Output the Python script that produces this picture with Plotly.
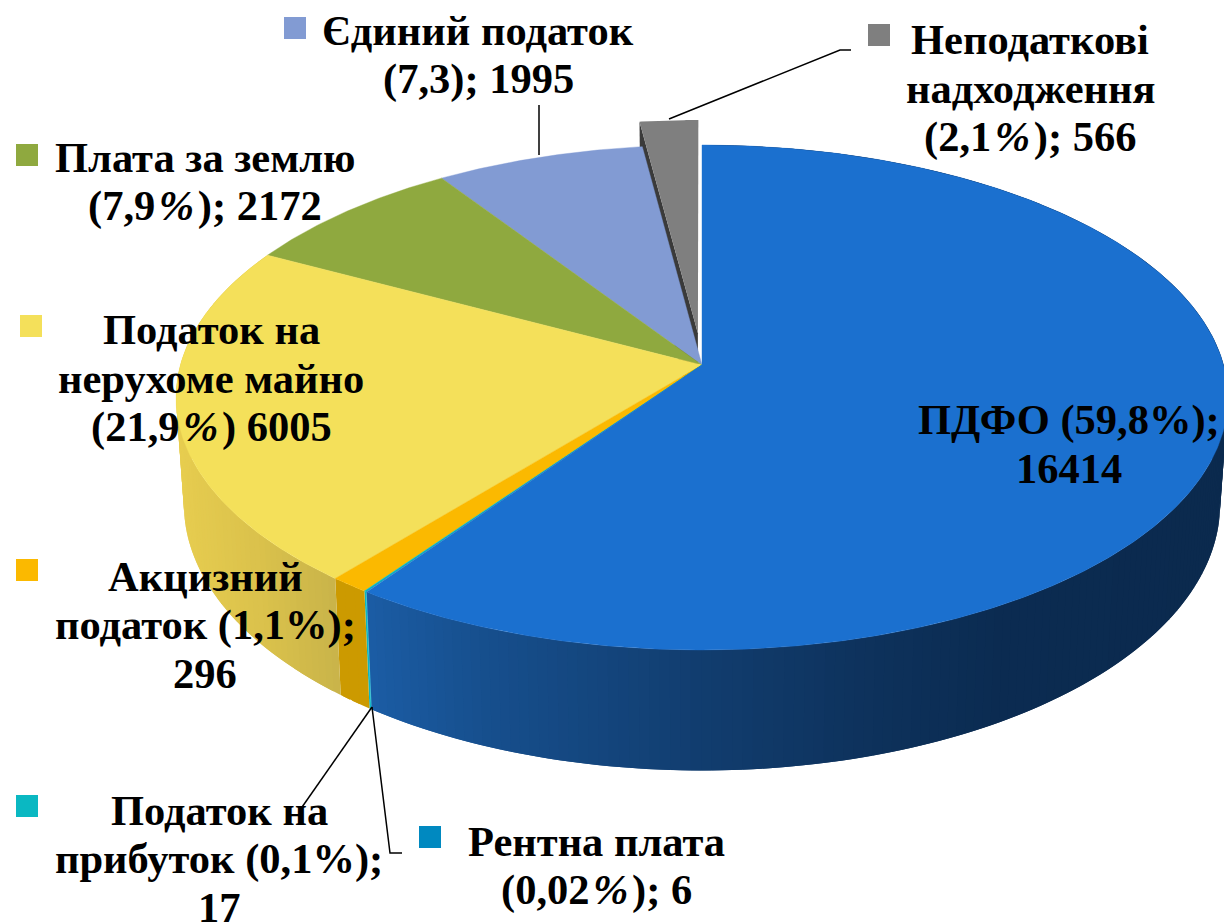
import numpy as np
import plotly.graph_objects as go

categories = ["ПДФО", "Рентна плата", "Податок на прибуток", "Акцизний податок",
              "Податок на нерухоме майно", "Плата за землю", "Єдиний податок",
              "Неподаткові надходження"]
values = [16414, 6, 17, 296, 6005, 2172, 1995, 566]
PCT = "\u200a<i>%</i>\u200a"
labels = [["ПДФО (59,8%);", "16414"],
          ["Рентна плата", "(0,02" + PCT + "); 6"],
          ["Податок на", "прибуток (0,1%);", "17"],
          ["Акцизний", "податок (1,1%);", "296"],
          ["Податок на", "нерухоме майно", "(21,9" + PCT + ") 6005"],
          ["Плата за землю", "(7,9" + PCT + "); 2172"],
          ["Єдиний податок", "(7,3); 1995"],
          ["Неподаткові", "надходження", "(2,1" + PCT + "); 566"]]
top_colors = ["#1B70CF", "#0089C0", "#0AB8C2", "#FBB900", "#F4E05A", "#8FA93F", "#829BD3", "#7F7F7F"]

# layout constants (pixel-space axes)
W, H = 1224, 923
CX, CY = 702, 365
A, C, D = 248.3, -0.1287, 521.6
DEPTH = 105
BOTTOM_SCALE = 0.985
PITCH = 48.5
label_pos = [(1069, 444), (596, 866), (219, 859), (205, 625), (211, 378), (205, 182), (478, 55), (1030, 88)]
key_pos = [None, (430, 837), (27, 806), (27, 570), (31, 326), (27, 155), (295, 28), (879, 35)]
FONT = dict(family="Liberation Serif, Times New Roman, serif", size=42.5, color="black")
# wall colour stops: x pixel -> rgb
blue_wall = [(360, (28, 94, 167)), (480, (23, 80, 143)), (700, (18, 62, 112)), (880, (14, 50, 92)), (1000, (11, 44, 82)), (1230, (11, 42, 78))]
yellow_wall = [(170, (232, 206, 80)), (260, (219, 194, 76)), (340, (201, 180, 74))]


def project(u, v, dy=0.0, du=0.0, dv=0.0):
    u = np.asarray(u) + du
    v = np.asarray(v) + dv
    w = 1 + C * v
    return CX + D * u / w, CY + A * v / w + dy / w


def project_bottom(u, v, du=0.0, dv=0.0):
    x, y = project(u, v, DEPTH, du, dv)
    return CX + (x - CX) * BOTTOM_SCALE, y


def arc(a0, a1, n):
    t = np.radians(np.linspace(a0, a1, n))
    return np.sin(t), -np.cos(t)


def shade(stops, x):
    xs = [s[0] for s in stops]
    rgb = [float(np.interp(x, xs, [s[1][i] for s in stops])) for i in range(3)]
    return "rgb(%d,%d,%d)" % tuple(rgb)


fig = go.Figure()


def poly(x, y, color, lw=0.0):
    fig.add_trace(go.Scatter(x=list(x), y=list(y), mode="lines", fill="toself", fillcolor=color,
                             line=dict(color=color, width=lw), hoverinfo="skip", showlegend=False))


total = sum(values)
edges = np.concatenate([[0], np.cumsum(values)]) / total * 360

# exploded slice (drawn first, neighbours cover it)
i_g = len(values) - 1
gdu, gdv = -0.008, -0.13
u, v = arc(edges[i_g], edges[i_g + 1], 30)
xl, yl = project(u[0], v[0], 0, gdu, gdv)
xc, yc = project(0.0, 0.0, 0, gdu, gdv)
xl2, yl2 = project_bottom(u[0], v[0], gdu, gdv)
xc2, yc2 = project_bottom(0.0, 0.0, gdu, gdv)
poly([xl, xc, xc2, xl2, xl], [yl, yc, yc2, yl2, yl], "#3A3A3A")
gx, gy = project(np.r_[0.0, u, 0.0], np.r_[0.0, v, 0.0], 0, gdu, gdv)
poly(gx, gy, top_colors[i_g])

# side walls: bands overlap the next one, later bands paint over, so no seams show
wall_colors = [blue_wall, None, None, None, yellow_wall, None, None, None]
flat_wall = {1: "#0089C0", 2: "#0AB8C2", 3: "#CC9A00"}
STEP = 1.0
for i in [0, 1, 2, 3, 4]:
    a0, a1 = edges[i], edges[i + 1]
    n = max(1, int((a1 - a0) / STEP))
    bounds = np.linspace(a0, a1, n + 1)
    for j in range(n):
        b0, b1 = bounds[j], min(bounds[j + 1] + STEP, a1)
        u, v = arc(b0, b1, 4)
        xt, yt = project(u, v)
        xb, yb = project_bottom(u, v)
        col = shade(wall_colors[i], xt[0]) if wall_colors[i] else flat_wall[i]
        poly(np.r_[xt, xb[::-1], xt[0]], np.r_[yt, yb[::-1], yt[0]], col)

# top faces
for i in list(range(len(values) - 2, -1, -1)):
    u, v = arc(edges[i], edges[i + 1], max(3, int((edges[i + 1] - edges[i]) * 2)))
    x, y = project(np.r_[0.0, u, 0.0], np.r_[0.0, v, 0.0])
    poly(x, y, top_colors[i], 0.4)

# leader lines
leaders = [([669, 840, 851], [119, 50, 50]), ([539, 539], [105, 155]),
           ([372, 300], [707, 810]), ([372, 390, 402], [707, 853, 853])]
for lx, ly in leaders:
    fig.add_trace(go.Scatter(x=lx, y=ly, mode="lines", line=dict(color="black", width=1.5),
                             hoverinfo="skip", showlegend=False))

# legend keys
for k, c in zip(key_pos, top_colors):
    if k:
        fig.add_trace(go.Scatter(x=[k[0]], y=[k[1]], mode="markers", hoverinfo="skip", showlegend=False,
                                 marker=dict(symbol="square", size=22, color=c, line=dict(width=0))))

annotations = []
for p, lines in zip(label_pos, labels):
    y0 = p[1] - PITCH * (len(lines) - 1) / 2
    for j, t in enumerate(lines):
        annotations.append(dict(x=p[0], y=y0 + j * PITCH, text="<b>%s</b>" % t, showarrow=False,
                                xanchor="center", yanchor="middle", align="center", font=FONT,
                                xref="x", yref="y"))

fig.update_layout(width=W, height=H, margin=dict(l=0, r=0, t=0, b=0), paper_bgcolor="white",
                  plot_bgcolor="white", showlegend=False, annotations=annotations,
                  xaxis=dict(range=[0, W], visible=False, fixedrange=True),
                  yaxis=dict(range=[H, 0], visible=False, fixedrange=True))
fig.write_html("out.html", config={"displayModeBar": False},
               post_script="document.body.style.margin='0';document.documentElement.style.overflow='hidden';")
